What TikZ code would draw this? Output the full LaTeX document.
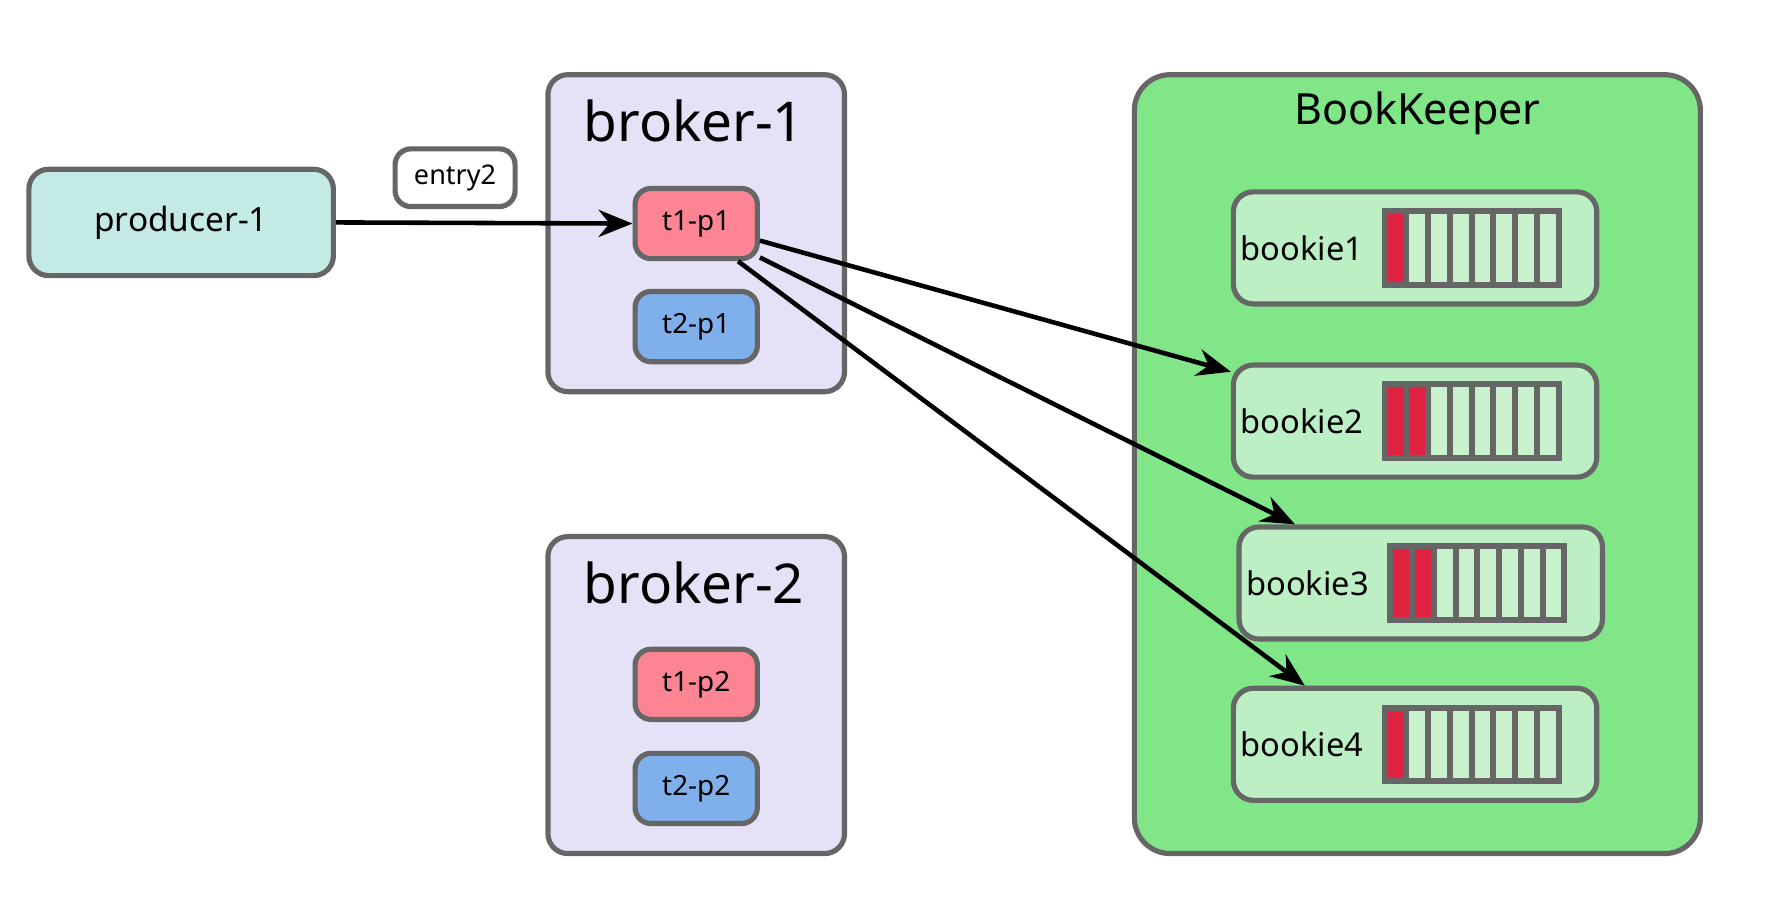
\documentclass[tikz,border=0pt]{standalone}
\usepackage{fontspec}
\setmainfont{Noto Sans}
\usetikzlibrary{arrows.meta, positioning}
\definecolor{edge}{HTML}{666666}
\definecolor{prodfill}{HTML}{C3EAE4}
\definecolor{brokerfill}{HTML}{E5E1F6}
\definecolor{topicone}{HTML}{FD8593}
\definecolor{topictwo}{HTML}{80B0EC}
\definecolor{bkfill}{HTML}{80E688}
\definecolor{bookiefill}{HTML}{BDEFC5}
\definecolor{slotfill}{HTML}{C8F2CE}
\definecolor{slotred}{HTML}{E0213F}

\begin{document}
\begin{tikzpicture}[
    box/.style={draw=edge, line width=1.3pt, rounded corners=5pt},
    part/.style={box, rounded corners=4pt, minimum width=1.08cm, minimum height=0.62cm, font=\fontsize{7}{8}\selectfont},
    broker/.style={box, fill=brokerfill, minimum width=2.62cm, minimum height=2.80cm},
    bookie/.style={box, fill=bookiefill, minimum width=3.21cm, minimum height=0.99cm},
    slot/.style={draw=edge, line width=1.5pt, fill=slotfill},
    link/.style={-{Stealth[length=3mm, width=2.4mm]}, line width=1.15pt}
]
    \useasboundingbox (0,0) rectangle (15.6,8.06);

    % Draw the producer and the entry
    \node[box, fill=prodfill, minimum width=2.69cm, minimum height=0.94cm,
          font=\fontsize{8.4}{10}\selectfont] (producer) at (1.60,6.095) {producer-1};
    \node[box, rounded corners=4pt, fill=white, minimum width=1.06cm, minimum height=0.51cm,
          font=\fontsize{6.8}{8}\selectfont] (entry) at (4.02,6.49) {entry2};

    % Draw the brokers
    \node[broker] (broker1) at (6.15,6.00) {};
    \node[font=\fontsize{13.8}{16}\selectfont] (b1title) at (6.13,6.99) {broker-1};
    \node[part, fill=topicone] (t1p1) at (6.15,6.085) {t1-p1};
    \node[part, fill=topictwo] (t2p1) at (6.15,5.175) {t2-p1};

    \node[broker] (broker2) at (6.15,1.92) {};
    \node[font=\fontsize{13.8}{16}\selectfont] (b2title) at (6.13,2.91) {broker-2};
    \node[part, fill=topicone] (t1p2) at (6.15,2.015) {t1-p2};
    \node[part, fill=topictwo] (t2p2) at (6.15,1.095) {t2-p2};

    % Draw BookKeeper with its bookies
    \node[box, rounded corners=9pt, fill=bkfill, minimum width=5.00cm, minimum height=6.88cm] (bk) at (12.52,3.96) {};
    \node[font=\fontsize{10.8}{13}\selectfont] (bktitle) at (12.52,7.06) {BookKeeper};
    \node[bookie] (bookie1) at (12.50,5.87) {};
    \node[bookie] (bookie2) at (12.50,4.34) {};
    \node[bookie] (bookie3) at (12.55,2.91) {};
    \node[bookie] (bookie4) at (12.50,1.485) {};

    % Add bookie labels and their slots
    \foreach \b/\n in {bookie1/1, bookie2/2, bookie3/2, bookie4/1} {
        \node[anchor=west, inner sep=0pt, font=\fontsize{8.2}{10}\selectfont] at ([xshift=0.08cm]\b.west) {\b};
        \begin{scope}[shift={(\b.west)}]
            \foreach \i in {0,...,7}
                \draw[slot] (1.36+0.192*\i,-0.325) rectangle ++(0.192,0.65);
            \foreach \i in {1,...,\n}
                \draw[slot, fill=slotred] (1.36+0.192*\i-0.192,-0.325) rectangle ++(0.192,0.65);
        \end{scope}
    }

    % Draw the arrows
    \draw[link] (producer.east) -- (t1p1.west);
    \draw[link] (t1p1.-15) -- (bookie2.165);
    \draw[link] (t1p1.-28) -- (bookie3.155);
    \draw[link] (t1p1.-42) -- (bookie4.152);

\end{tikzpicture}
\end{document}
